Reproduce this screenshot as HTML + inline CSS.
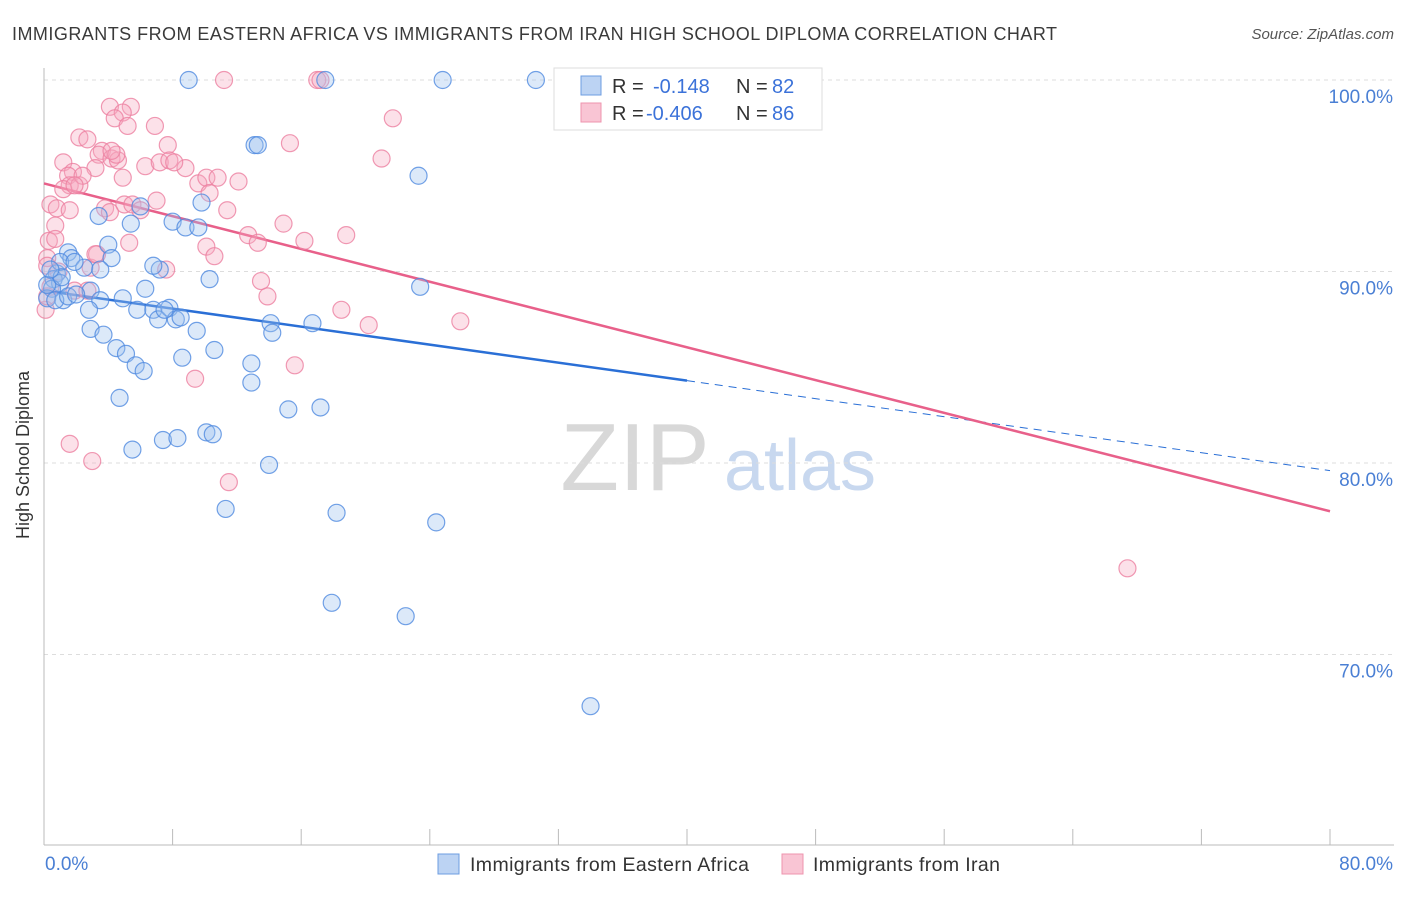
<!DOCTYPE html>
<html><head><meta charset="utf-8"><style>
body{margin:0;background:#fff;font-family:"Liberation Sans",sans-serif;}
svg text{font-family:"Liberation Sans",sans-serif;}
</style></head><body>
<svg id="chart" width="1406" height="892">
<text x="12" y="40" font-size="18" fill="#3a3a3a" textLength="1045" lengthAdjust="spacing">IMMIGRANTS FROM EASTERN AFRICA VS IMMIGRANTS FROM IRAN HIGH SCHOOL DIPLOMA CORRELATION CHART</text>
<text x="1394" y="39" font-size="15" fill="#555" text-anchor="end" font-style="italic">Source: ZipAtlas.com</text>
<text x="29" y="455" font-size="18" fill="#333" text-anchor="middle" transform="rotate(-90 29 455)">High School Diploma</text>
<g><text x="635" y="490" font-size="96" fill="#d8d8d8" text-anchor="middle" font-family="Liberation Serif">ZIP</text><text x="800" y="490" font-size="72" fill="#c8d8ef" text-anchor="middle">atlas</text></g>
<g id="grid"></g><g id="axes"></g><g id="trends"></g><g id="points"></g>
<g>
<rect x="554" y="68" width="268" height="62" fill="#fff" stroke="#ddd"/>
<rect x="581" y="76" width="20" height="19" fill="#bcd3f3" stroke="#6d9de0"/>
<text x="612" y="93" font-size="20" fill="#333">R = </text><text x="653" y="93" font-size="20" fill="#3b72d9">-0.148</text>
<text x="736" y="93" font-size="20" fill="#333">N = </text><text x="772" y="93" font-size="20" fill="#3b72d9">82</text>
<rect x="581" y="103" width="20" height="19" fill="#f9c5d4" stroke="#ee94ae"/>
<text x="612" y="120" font-size="20" fill="#333">R = </text><text x="646" y="120" font-size="20" fill="#3b72d9">-0.406</text>
<text x="736" y="120" font-size="20" fill="#333">N = </text><text x="772" y="120" font-size="20" fill="#3b72d9">86</text>
</g>
<g>
<rect x="438" y="854" width="21" height="20" fill="#bcd3f3" stroke="#6d9de0"/>
<text x="470" y="871" font-size="19.5" fill="#333" textLength="279">Immigrants from Eastern Africa</text>
<rect x="782" y="854" width="21" height="20" fill="#f9c5d4" stroke="#ee94ae"/>
<text x="813" y="871" font-size="19.5" fill="#333" textLength="187">Immigrants from Iran</text>
</g>
</svg>
<script>
const yTicks=[100,90,80,70];
const yTickLabels=["100.0%","90.0%","80.0%","70.0%"];
const xTicks=[0,8,16,24,32,40,48,56,64,72,80];
const xEndLabels=["0.0%","80.0%"];
const blueX=[9.0,17.5,24.8,30.6,33.0,13.1,13.3,23.3,6.0,9.8,8.0,8.8,9.6,3.4,5.4,1.5,4.0,1.7,4.2,2.5,0.8,0.6,1.0,0.5,0.2,2.9,3.5,4.9,7.2,6.8,10.3,6.3,23.4,2.8,5.8,6.8,7.1,7.8,8.2,8.5,9.5,2.9,3.7,4.5,5.1,5.7,6.2,8.6,10.6,12.9,14.1,14.2,16.7,12.9,15.2,17.2,4.7,7.4,8.3,10.1,10.5,5.5,14.0,11.3,18.2,24.4,17.9,22.5,34.0,1.0,1.9,1.2,0.2,0.7,1.5,7.5,1.1,3.5,0.4,2.0];
const blueY=[100,100,100,100,100,96.6,96.6,95.0,93.4,93.6,92.6,92.3,92.3,92.9,92.5,91.0,91.4,90.7,90.7,90.2,89.9,89.6,89.4,89.1,88.6,89.0,88.5,88.6,90.1,90.3,89.6,89.1,89.2,88.0,88.0,88.0,87.5,88.1,87.5,87.6,86.9,87.0,86.7,86.0,85.7,85.1,84.8,85.5,85.9,85.2,87.3,86.8,87.3,84.2,82.8,82.9,83.4,81.2,81.3,81.6,81.5,80.7,79.9,77.6,77.4,76.9,72.7,72.0,67.3,90.5,90.5,88.5,89.3,88.5,88.7,88.0,89.7,90.1,90.1,88.8];
const pinkX=[11.2,17.0,17.2,4.1,5.4,4.9,4.4,5.2,6.9,21.7,2.2,2.7,3.6,3.4,4.2,4.6,7.7,21.0,1.2,1.8,1.5,1.6,1.2,2.2,3.2,4.9,6.3,7.2,7.8,8.8,9.6,10.1,10.8,12.1,0.4,0.8,3.8,5.0,5.5,7.0,4.1,11.4,15.3,0.7,0.3,0.7,0.2,2.9,3.3,5.3,10.1,10.6,12.7,13.3,14.9,16.2,18.8,0.2,0.9,0.4,3.2,7.6,13.5,13.9,18.5,20.2,25.9,15.6,9.4,1.6,3.0,11.5,67.4,0.1,0.2,1.9,2.7,4.5,4.2,2.4,1.9,1.6,6.0,10.3,8.1];
const pinkY=[100,100,100,98.6,98.6,98.3,98.0,97.6,97.6,98.0,97.0,96.9,96.3,96.1,95.9,95.8,96.6,95.9,95.7,95.2,95.0,94.5,94.3,94.5,95.4,94.9,95.5,95.7,95.8,95.4,94.6,94.9,94.9,94.7,93.5,93.3,93.3,93.5,93.5,93.7,93.1,93.2,96.7,92.4,91.6,91.7,90.7,90.2,90.9,91.5,91.3,90.8,91.9,91.5,92.5,91.6,91.9,90.3,90.0,89.2,90.9,90.1,89.5,88.7,88.0,87.2,87.4,85.1,84.4,81.0,80.1,79.0,74.5,88.0,88.7,89.0,89.0,96.1,96.3,95.0,94.5,93.2,93.2,94.1,95.7];
const blueTrend=[89.0,-0.1175]; // intercept, slope
const pinkTrend=[94.6,-0.214];
const NS="http://www.w3.org/2000/svg";
const X0=44,X1=1330,Y0=845,YT=80;
function sx(v){return X0+(v/80)*(X1-X0);}
function sy(v){return YT+(100-v)*(463-YT)/20;}
function mk(tag,attrs,parent){const e=document.createElementNS(NS,tag);for(const k in attrs)e.setAttribute(k,attrs[k]);parent.appendChild(e);return e;}
const grid=document.getElementById('grid'),axes=document.getElementById('axes');
yTicks.forEach((t,i)=>{
  const l=mk('line',{x1:X0,x2:1394,y1:sy(t),y2:sy(t),stroke:'#ddd','stroke-dasharray':'4,4'},grid);
  
  
  const tx=mk('text',{x:1393,y:sy(t)+23,'font-size':19,fill:'#4a7fd4','text-anchor':'end'},axes);
  tx.textContent=yTickLabels[i];
  
  
});
const ya=mk('line',{x1:X0,x2:X0,y1:68,y2:Y0,stroke:'#bbb'},axes);


const xa=mk('line',{x1:X0,x2:1394,y1:Y0,y2:Y0,stroke:'#bbb'},axes);


xTicks.forEach(t=>{
  const l=mk('line',{x1:sx(t),x2:sx(t),y1:829,y2:Y0,stroke:'#bbb'},axes);
  
  
});
[[0,'start'],[80,'end']].forEach((p,i)=>{
  const tx=mk('text',{x:i?1393:45,y:870,'font-size':19,fill:'#4a7fd4','text-anchor':p[1]},axes);
  tx.textContent=xEndLabels[i];
  
  
});
const pts=document.getElementById('points');
function drawPts(xs,ys,fill,stroke,name){
  xs.forEach((x,i)=>{
    const c=mk('circle',{cx:sx(x),cy:sy(ys[i]),r:8.5,fill:fill,'fill-opacity':0.35,stroke:stroke,'stroke-opacity':0.8,'stroke-width':1.2},pts);
    
    
  });
}
drawPts(pinkX,pinkY,'#f7a8bf','#ec7fa0','point-iran');
drawPts(blueX,blueY,'#9cc0ee','#4f8ae0','point-eastern-africa');
const tr=document.getElementById('trends');
function tl(tr0,a,b,col,dash,name){
  const l=mk('line',{x1:sx(a),y1:sy(tr0[0]+tr0[1]*a),x2:sx(b),y2:sy(tr0[0]+tr0[1]*b),stroke:col,'stroke-width':dash?1:2.5},tr);
  if(dash)l.setAttribute('stroke-dasharray','8,6');
  
  
}
tl(blueTrend,0,40,'#2a6fd6',false,'trend-eastern-africa');
tl(blueTrend,40,80,'#2a6fd6',true,'trend-eastern-africa-extrapolated');
tl(pinkTrend,0,80,'#e8608a',false,'trend-iran');
</script>
</body></html>
